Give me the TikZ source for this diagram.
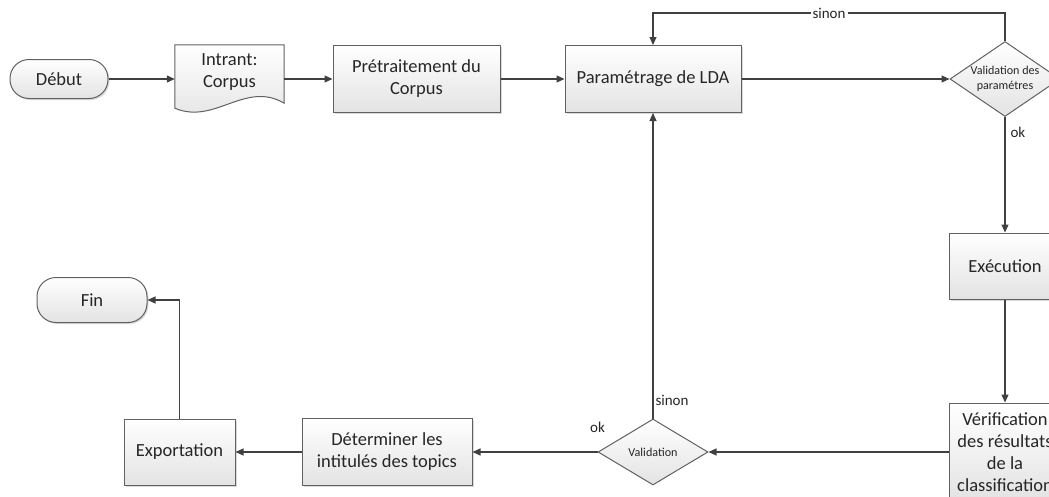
\documentclass[tikz,border=0pt]{standalone}
\usepackage{fontspec}
\setmainfont{Carlito}
\usepackage{tikz}
\usetikzlibrary{arrows.meta,shapes.geometric,shadows,backgrounds}

\newcommand\boxfont{\fontsize{18.5}{22}\selectfont}
\newcommand\diafont{\fontsize{12.1}{15}\selectfont}
\newcommand\lblfont{\fontsize{15}{18}\selectfont}

\begin{document}
\begin{tikzpicture}[x=1pt, y=-1pt, >={Triangle[length=8pt,width=7pt]},
  box/.style={draw=black!62, line width=1pt, top color=white, bottom color=black!11,
    text=black!85, font=\boxfont, align=center, inner sep=2pt},
  shadowed/.style={drop shadow={shadow xshift=1.5pt, shadow yshift=-1.5pt, opacity=0.25, fill=black!60}},
  term/.style={box, shadowed, rounded corners=19pt, minimum height=39pt, minimum width=98pt},
  proc/.style={box, shadowed, rectangle, minimum height=67pt},
  docu/.style={font=\boxfont, text=black!85, align=center, minimum width=109pt, minimum height=55pt},
  decis/.style={box, diamond, font=\diafont, inner sep=0pt, minimum width=110pt},
  flow/.style={->, draw=black!75, line width=1.1pt},
  lbl/.style={font=\lblfont, text=black!85, inner sep=2pt}]
  \useasboundingbox (0,0) rectangle (1049,496);

  \node[term] (debut) at (59,79) {Début};
  \node[docu] (intrant) [right of=debut, node distance=170.5pt, yshift=6.5pt] {Intrant:\\Corpus};
  \node[proc, minimum width=167pt] (pretrait) [right of=debut, node distance=357.5pt] {Prétraitement du\\Corpus};
  \node[proc, minimum width=176pt] (param) [right of=pretrait, node distance=236.5pt] {Paramétrage de LDA};
  \node[decis, aspect=1.47, minimum height=75pt] (valparam) [right of=param, node distance=352pt] {Validation des\\paramétres};

  \node[proc, minimum width=112pt, minimum height=66pt] (exec) [below of=valparam, node distance=187pt] {Exécution};
  \node[proc, minimum width=112pt, minimum height=98pt] (verif) [below of=exec, node distance=186pt] {Vérification\\des résultats\\de la\\classification};
  \node[decis, aspect=1.67, minimum height=66pt] (valid) [below of=param, node distance=373pt] {Validation};
  \node[proc, minimum width=170pt] (determ) [left of=valid, node distance=266pt] {Déterminer les\\intitulés des topics};
  \node[proc, minimum width=111pt, minimum height=66pt] (export) [left of=determ, node distance=207.5pt] {Exportation};
  \node[term, minimum width=110pt, minimum height=45pt] (fin) [left of=export, node distance=87.5pt, yshift=152pt] {Fin};

  \coordinate (topbend) at (653,13);

  % document outline
  \begin{scope}[on background layer]
  \draw[draw=black!62, line width=1pt, top color=white, bottom color=black!11]
    (intrant.north west) -- (intrant.north east) -- ([yshift=-3pt]intrant.south east)
    .. controls +(-39,-23) and +(40,17) .. ([yshift=-8pt]intrant.south west) -- cycle;
  \end{scope}

  % Arrows of the flow
  \draw[flow] (debut) -- (debut -| intrant.west);
  \draw[flow] (intrant.east |- pretrait) -- (pretrait);
  \draw[flow] (pretrait) -- (param);
  \draw[flow] (param) -- (valparam);
  \draw[flow] (valparam.north) |- (topbend) node[lbl, fill=white, pos=0.75] {sinon} -- (param.north);
  \draw[flow] (valparam.south) -- node[lbl, right, pos=0.13, xshift=3pt] {ok} (exec.north);
  \draw[flow] (exec) -- (verif);
  \draw[flow] (verif) -- (valid);
  \draw[flow] (valid.north) -- node[lbl, right, pos=0.06] {sinon} (param.south);
  \draw[flow] (valid.west) -- node[lbl, pos=0, above=17pt] {ok} (determ.east);
  \draw[flow] (determ) -- (export);
  \draw[flow] (export.north) |- (fin.east);
\end{tikzpicture}
\end{document}
